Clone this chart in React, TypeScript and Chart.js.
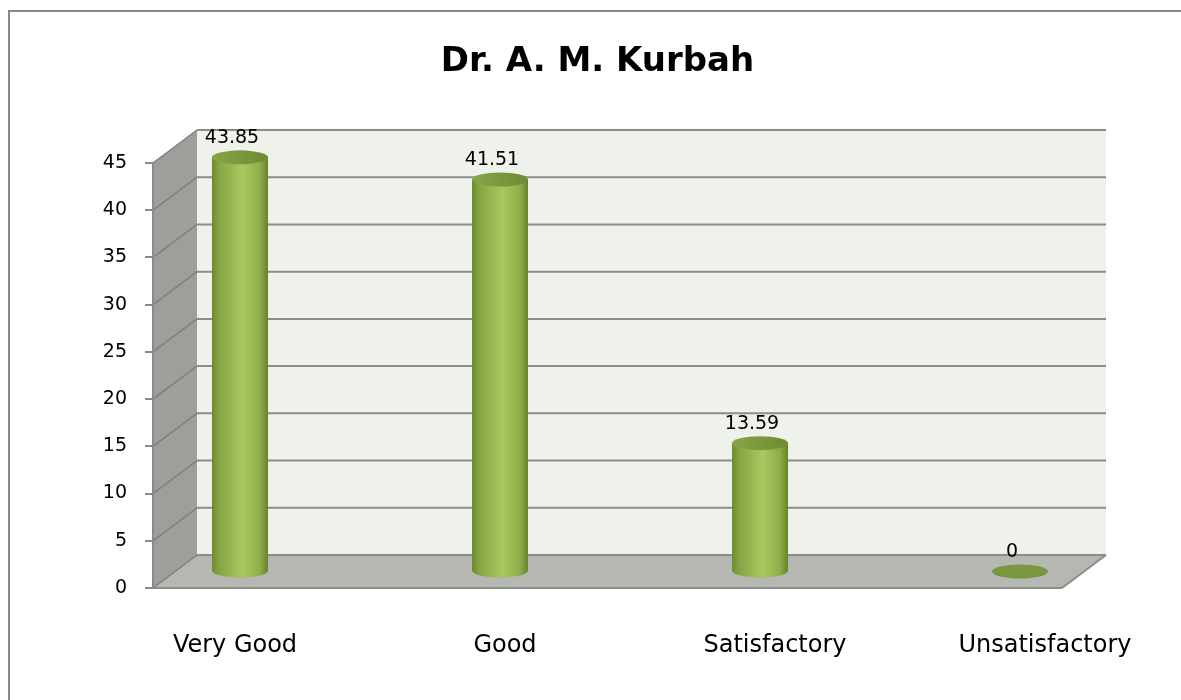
import React, { useEffect, useRef } from "react";
import { Chart, registerables } from "chart.js";

Chart.register(...registerables);

const TITLE = "Dr. A. M. Kurbah";
const categories = ["Very Good", "Good", "Satisfactory", "Unsatisfactory"];
const values = [43.85, 41.51, 13.59, 0];
const Y_MIN = 0;
const Y_MAX = 45;
const Y_STEP = 5;

const FONT = "'DejaVu Sans', sans-serif";
const DX = 44;
const DY = -33;

function poly(ctx: CanvasRenderingContext2D, pts: number[][], fill: string) {
  ctx.beginPath();
  ctx.moveTo(pts[0][0], pts[0][1]);
  for (let i = 1; i < pts.length; i++) ctx.lineTo(pts[i][0], pts[i][1]);
  ctx.closePath();
  ctx.fillStyle = fill;
  ctx.fill();
}

function line(ctx: CanvasRenderingContext2D, x1: number, y1: number, x2: number, y2: number) {
  ctx.beginPath();
  ctx.moveTo(x1, y1);
  ctx.lineTo(x2, y2);
  ctx.stroke();
}

const frame3d = {
  id: "frame3d",
  beforeDraw(chart: any) {
    const { ctx, chartArea: a, scales } = chart;
    const y = scales.y;
    ctx.save();
    // outer frame
    ctx.strokeStyle = "#8a8a8a";
    ctx.lineWidth = 2;
    ctx.beginPath();
    ctx.moveTo(9, chart.height);
    ctx.lineTo(9, 11);
    ctx.lineTo(chart.width, 11);
    ctx.stroke();

    const L = a.left;
    const R = a.right;
    const T = y.getPixelForValue(y.max);
    const B = y.getPixelForValue(y.min);
    // back wall
    ctx.fillStyle = "#eff1eb";
    ctx.fillRect(L + DX, T + DY, R - L, B - T);
    // side wall
    poly(ctx, [[L, T], [L + DX, T + DY], [L + DX, B + DY], [L, B]], "#9d9f9a");
    // floor
    poly(ctx, [[L, B], [L + DX, B + DY], [R + DX, B + DY], [R, B]], "#b5b7b1");

    y.ticks.forEach((t: any) => {
      const py = y.getPixelForValue(t.value);
      ctx.strokeStyle = "#8c8c8c";
      ctx.lineWidth = 2;
      line(ctx, L + DX, py + DY, R + DX, py + DY);
      ctx.strokeStyle = "#7f817c";
      ctx.lineWidth = 1.5;
      line(ctx, L, py, L + DX, py + DY);
    });
    ctx.strokeStyle = "#8c8c8c";
    ctx.lineWidth = 2;
    line(ctx, L, B, R, B);
    line(ctx, R, B, R + DX, B + DY);
    ctx.restore();
  },
};

const cylinders = {
  id: "cylinders",
  afterDatasetsDraw(chart: any) {
    const { ctx } = chart;
    const meta = chart.getDatasetMeta(0);
    ctx.save();
    meta.data.forEach((bar: any, i: number) => {
      const { x, y, base, width } = bar.getProps(["x", "y", "base", "width"], true);
      const cx = x;
      const rx = width / 2;
      const ry = 7;
      const ty = y + DY / 2;
      const by = base + DY / 2;

      if (by - ty > 0.5) {
        const g = ctx.createLinearGradient(cx - rx, 0, cx + rx, 0);
        g.addColorStop(0, "#6c892e");
        g.addColorStop(0.12, "#86a443");
        g.addColorStop(0.55, "#a8ca5f");
        g.addColorStop(0.85, "#8fae4a");
        g.addColorStop(1, "#66832a");
        ctx.beginPath();
        ctx.moveTo(cx - rx, ty);
        ctx.lineTo(cx - rx, by);
        ctx.ellipse(cx, by, rx, ry, 0, Math.PI, 0, true);
        ctx.lineTo(cx + rx, ty);
        ctx.closePath();
        ctx.fillStyle = g;
        ctx.fill();

        const gt = ctx.createLinearGradient(cx - rx, 0, cx + rx, 0);
        gt.addColorStop(0, "#87a548");
        gt.addColorStop(1, "#6e8b33");
        ctx.beginPath();
        ctx.ellipse(cx, ty, rx, ry, 0, 0, Math.PI * 2);
        ctx.fillStyle = gt;
        ctx.fill();
      } else {
        ctx.beginPath();
        ctx.ellipse(cx, ty, rx, ry, 0, 0, Math.PI * 2);
        ctx.fillStyle = "#7a9640";
        ctx.fill();
      }

      ctx.fillStyle = "#000";
      ctx.font = `19px ${FONT}`;
      ctx.textAlign = "center";
      ctx.textBaseline = "middle";
      ctx.fillText(String(values[i]), cx - 8, ty - 19);
    });
    ctx.restore();
  },
};

export default function App() {
  const ref = useRef<HTMLCanvasElement>(null);

  useEffect(() => {
    if (!ref.current) return;
    const chart = new Chart(ref.current, {
      type: "bar",
      data: {
        datasets: [
          {
            data: values.map((v, i) => ({ x: i, y: v })),
            backgroundColor: "rgba(0,0,0,0)",
            borderWidth: 0,
            barThickness: 56,
            xAxisID: "x",
            yAxisID: "y",
          },
        ],
      },
      options: {
        responsive: false,
        animation: false,
        events: [],
        layout: { padding: { left: 14, right: 0, top: 0, bottom: 0 } },
        scales: {
          x: {
            type: "linear",
            display: false,
            offset: false,
            bounds: "data",
            min: -0.3346,
            max: 3.1615,
            grid: { offset: false },
          },
          xl: {
            type: "linear",
            position: "bottom",
            offset: false,
            bounds: "data",
            min: -0.3037,
            max: 3.063,
            afterBuildTicks(s: any) {
              s.ticks = categories.map((_, i) => ({ value: i }));
            },
            ticks: {
              autoSkip: false,
              maxRotation: 0,
              padding: 43.6,
              color: "#000",
              font: { family: FONT, size: 24, lineHeight: 1.2 },
              callback: (_v: any, i: number) => categories[i],
            },
            grid: { display: false, drawTicks: false, offset: false },
            border: { display: false },
            afterFit(s: any) {
              s.height = 112;
            },
          },
          y: {
            type: "linear",
            position: "left",
            min: Y_MIN,
            max: Y_MAX,
            ticks: {
              stepSize: Y_STEP,
              padding: 18,
              color: "#000",
              font: { family: FONT, size: 19 },
            },
            grid: {
              drawOnChartArea: false,
              drawTicks: true,
              tickLength: 8,
              color: "#8a8a8a",
              lineWidth: 2,
            },
            border: { display: true, color: "#8a8a8a", width: 2 },
            afterFit(s: any) {
              s.width = 139;
            },
          },
          y2: {
            type: "linear",
            position: "right",
            ticks: { display: false },
            grid: { display: false, drawTicks: false },
            border: { display: false },
            afterFit(s: any) {
              s.width = 119;
            },
          },
        },
        plugins: {
          legend: { display: false },
          tooltip: { enabled: false },
          title: {
            display: true,
            text: TITLE,
            color: "#000",
            font: { family: FONT, size: 34, weight: "bold", lineHeight: 1.2 },
            padding: { top: 41.6, bottom: 80.6 },
          },
        },
      } as any,
      plugins: [frame3d, cylinders],
    });
    return () => chart.destroy();
  }, []);

  return (
    <div style={{ position: "fixed", left: 0, top: 0, width: 1181, height: 700, background: "#fff" }}>
      <canvas ref={ref} width={1181} height={700} style={{ display: "block" }} />
    </div>
  );
}
